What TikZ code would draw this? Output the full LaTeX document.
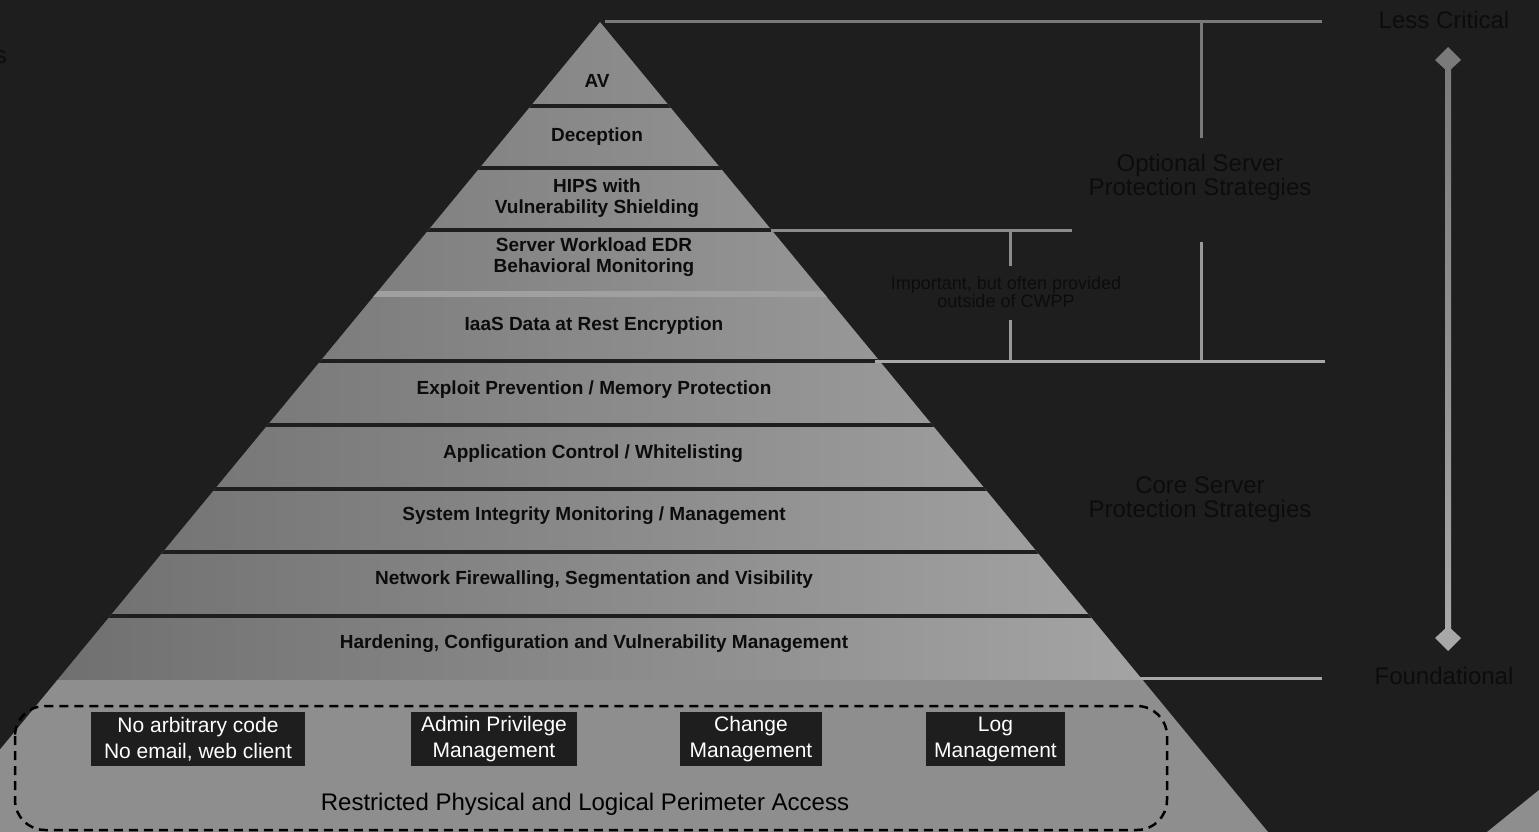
\documentclass[tikz,border=0pt]{standalone}
\usepackage{fontspec}
\setmainfont{Liberation Sans}

\definecolor{bgdark}{HTML}{1E1E1E}
\definecolor{inkdark}{HTML}{0C0C0C}
\definecolor{bandleft}{HTML}{6A6A6A}
\definecolor{bandright}{HTML}{AAAAAA}
\definecolor{basegray}{HTML}{8E8E8E}
\definecolor{stripgray}{HTML}{A0A0A0}
\definecolor{axistop}{HTML}{7A7A7A}
\definecolor{axisbot}{HTML}{A8A8A8}

\tikzset{
    band/.style = {align=center,text=inkdark,inner sep=0pt,font=\fontsize{19}{21.5}\selectfont\bfseries},
    side/.style = {align=center,text=inkdark,inner sep=0pt,font=\fontsize{24}{24}\selectfont},
    note/.style = {align=center,text=inkdark,inner sep=0pt,font=\fontsize{18}{18}\selectfont},
    blackbox/.style = {fill=bgdark,text=white,align=center,inner sep=0pt,minimum height=54pt,font=\fontsize{21}{26}\selectfont},
    sep/.style = {draw=bgdark,line width=4pt},
    bracket/.style = {line width=3pt}
}

\begin{document}
\begin{tikzpicture}[x=1pt,y=-1pt]
        \useasboundingbox (0,0) rectangle (1539,832);
        \fill[bgdark] (0,0) rectangle (1539,832);
        \fill[basegray] (1487,832) -- (1539,790) -- (1539,832) -- cycle;

        %% Pyramid
        \coordinate (apex) at (600,22);
        \begin{scope}
            \clip (apex) -- (-68,832) -- (1268,832) -- cycle;
            \shade[left color=bandleft,right color=bandright] (-68,22) rectangle (1268,680);
            \fill[basegray] (-68,680) rectangle (1268,832);
            \fill[stripgray] (0,291) rectangle (1200,297);
            \foreach \y in {106,168,230,361,425,489,552,616}
                \draw[sep] (-68,\y) -- (1268,\y);
        \end{scope}

        \node[band]  (1001) at (597,81)  {AV};
        \node[band]  (1002) at (597,137) {Deception};
        \node[band]  (1003) at (597,198) {HIPS with\\Vulnerability Shielding};
        \node[band]  (1004) at (594,257) {Server Workload EDR\\Behavioral Monitoring};
        \node[band]  (1005) at (594,326) {IaaS Data at Rest Encryption};
        \node[band]  (1006) at (594,390) {Exploit Prevention / Memory Protection};
        \node[band]  (1007) at (593,454) {Application Control / Whitelisting};
        \node[band]  (1008) at (594,516) {System Integrity Monitoring / Management};
        \node[band]  (1009) at (594,580) {Network Firewalling, Segmentation and Visibility};
        \node[band]  (1010) at (594,644) {Hardening, Configuration and Vulnerability Management};

        %% Base
        \draw[black,dashed,dash pattern=on 9pt off 6pt,line width=2.5pt,rounded corners=30pt]
                (15,706) rectangle (1167,830);
        \node[blackbox,minimum width=214pt] (b001) at (198,739)   {No arbitrary code\\No email, web client};
        \node[blackbox,minimum width=166pt] (b002) at (494,739)   {Admin Privilege\\Management};
        \node[blackbox,minimum width=142pt] (b003) at (751,739)   {Change\\Management};
        \node[blackbox,minimum width=139pt] (b004) at (995.5,739) {Log\\Management};
        \node[side,text=black] (b005) at (585,804) {Restricted Physical and Logical Perimeter Access};

        %% Brackets
        \node[side]  (t001) at (1200,177) {Optional Server\\Protection Strategies};
        \node[note]  (t002) at (1006,292) {Important, but often provided\\outside of CWPP};
        \node[side]  (t003) at (1200,500) {Core Server\\Protection Strategies};
        \coordinate (c001) at (605,22);   \coordinate (c002) at (1322,22);
        \coordinate (c003) at (1201,22);  \coordinate (c004) at (1201,138);
        \coordinate (c005) at (1201,242); \coordinate (c006) at (1201,361);
        \coordinate (c007) at (771,230);  \coordinate (c008) at (1072,230);
        \coordinate (c009) at (1010,230); \coordinate (c010) at (1010,266);
        \coordinate (c011) at (1010,320); \coordinate (c012) at (1010,361);
        \coordinate (c013) at (875,361);  \coordinate (c014) at (1325,361);
        \coordinate (c015) at (1140,678); \coordinate (c016) at (1322,678);
        \draw[bracket,color=axistop]       (c001) -- (c002)  (c003) -- (c004);
        \draw[bracket,color=axistop!60!axisbot] (c007) -- (c008)  (c009) -- (c010);
        \draw[bracket,color=axistop!30!axisbot] (c005) -- (c006)  (c011) -- (c012);
        \draw[bracket,color=axisbot]       (c013) -- (c014)  (c015) -- (c016);

        %% Scale
        \node[side]  (s001) at (1444,20)  {Less Critical};
        \node[side]  (s002) at (1444,676) {Foundational};
        \node[side,anchor=base east] (s003) at (7,64) {s};
        \shade[top color=axistop,bottom color=axisbot] (1445,60) rectangle (1451,638);
        \fill[axistop] (1448,47) -- (1461,60) -- (1448,72) -- (1435,60) -- cycle;
        \fill[axisbot] (1448,626) -- (1461,638) -- (1448,651) -- (1435,638) -- cycle;
\end{tikzpicture}
\end{document}
